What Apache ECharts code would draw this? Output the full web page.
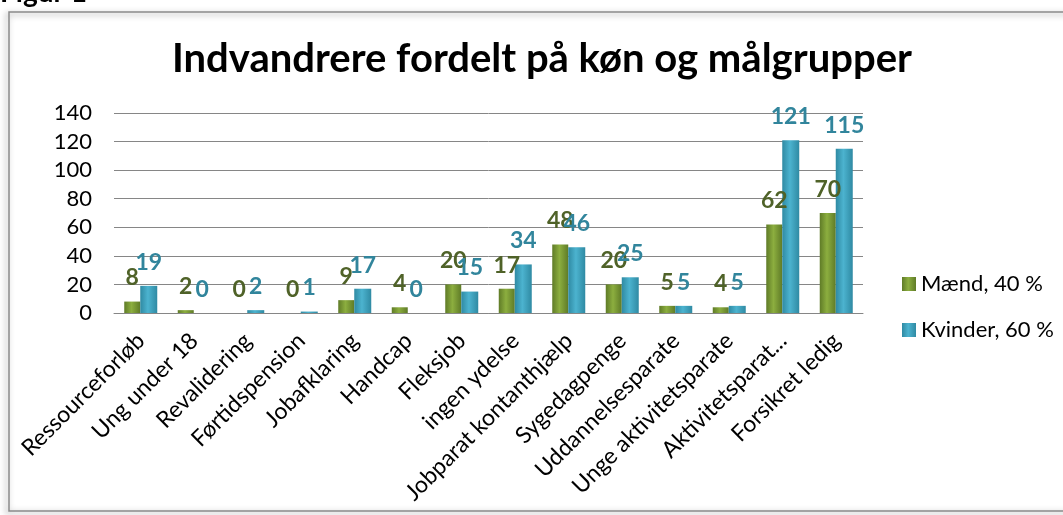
<!DOCTYPE html>
<html lang="da">
<head>
  <meta charset="UTF-8">
  <title>Indvandrere fordelt på køn og målgrupper</title>
  <style type="text/css">
    * { margin: 0; padding: 0; }
    html, body { width: 100%; height: 100%; overflow: hidden; background: #fff; }
    #main { width: 1063px; height: 515px; }
  </style>
  <script type="text/javascript" src="https://cdn.jsdelivr.net/npm/echarts@6/dist/echarts.min.js"></script>
</head>
<body>
<div id="main"></div>
<script type="text/javascript">
  var categories = ['Ressourceforløb', 'Ung under 18', 'Revalidering', 'Førtidspension', 'Jobafklaring',
    'Handcap', 'Fleksjob', 'ingen ydelse', 'Jobparat kontanthjælp', 'Sygedagpenge',
    'Uddannelsesparate', 'Unge aktivitetsparate', 'Aktivitetsparat...', 'Forsikret ledig'];
  var maend = [8, 2, 0, 0, 9, 4, 20, 17, 48, 20, 5, 4, 62, 70];
  var kvinder = [19, 0, 2, 1, 17, 0, 15, 34, 46, 25, 5, 5, 121, 115];
  var seriesNames = ['Mænd, 40 %', 'Kvinder, 60 %'];
  var yTicks = { min: 0, max: 140, interval: 20 };

  var font = 'Lato, "Open Sans", sans-serif';

  // lys midte, mørkere kanter - ligner Excel-søjlerne
  function barFill(edge, mid) {
    return new echarts.graphic.LinearGradient(0, 0, 1, 0, [
      { offset: 0, color: edge },
      { offset: 0.45, color: mid },
      { offset: 1, color: edge }
    ]);
  }

  var chart = echarts.init(document.getElementById('main'));
  var option = {
    backgroundColor: '#fff',
    animation: false,
    title: {
      text: 'Indvandrere fordelt på køn og målgrupper',
      left: 167,
      top: 34,
      textStyle: { fontFamily: font, fontWeight: 'bold', fontSize: 40, color: '#000' }
    },
    legend: {
      orient: 'vertical',
      left: 897,
      top: 268,
      itemGap: 24,
      itemWidth: 14,
      itemHeight: 14,
      icon: 'rect',
      textStyle: { fontFamily: font, fontSize: 22, color: '#000' },
      data: seriesNames
    },
    grid: { left: 114, right: 200, top: 113, bottom: 202 },
    xAxis: {
      type: 'category',
      data: categories,
      axisLine: { lineStyle: { color: '#868686' } },
      axisTick: { show: false },
      axisLabel: {
        rotate: 45,
        interval: 0,
        margin: 24,
        fontFamily: font,
        fontSize: 23,
        color: '#000'
      }
    },
    yAxis: {
      type: 'value',
      min: yTicks.min,
      max: yTicks.max,
      interval: yTicks.interval,
      axisLine: { show: false },
      axisTick: { show: false },
      splitLine: { lineStyle: { color: '#868686', width: 1 } },
      axisLabel: { fontFamily: font, fontSize: 22, color: '#000', margin: 22 }
    },
    series: [
      {
        name: seriesNames[0],
        type: 'bar',
        data: maend,
        barWidth: 16,
        barGap: '0%',
        itemStyle: { color: barFill('#5f7b27', '#8cae3f') },
        label: {
          show: true,
          position: 'top',
          distance: 12,
          fontFamily: font,
          fontWeight: 'bold',
          fontSize: 23,
          color: '#4f6228'
        }
      },
      {
        name: seriesNames[1],
        type: 'bar',
        data: kvinder,
        barWidth: 17,
        itemStyle: { color: barFill('#2f8aa3', '#4cb3cf') },
        label: {
          show: true,
          position: 'top',
          distance: 12,
          fontFamily: font,
          fontWeight: 'bold',
          fontSize: 23,
          color: '#31859c'
        }
      }
    ],
    graphic: [
      {
        type: 'rect',
        shape: { x: 9, y: 12, width: 1070, height: 499 },
        style: {
          fill: 'rgba(0,0,0,0)',
          stroke: '#8a8a8a',
          lineWidth: 1.5,
          shadowBlur: 6,
          shadowOffsetX: -2,
          shadowOffsetY: 2,
          shadowColor: 'rgba(0,0,0,0.45)'
        },
        z: -1
      },
      {
        type: 'text',
        left: 0,
        top: -21,
        style: { text: 'Figur 1', font: 'bold 28px Lato, sans-serif', fill: '#000' }
      }
    ]
  };
  chart.setOption(option);
</script>
</body>
</html>
